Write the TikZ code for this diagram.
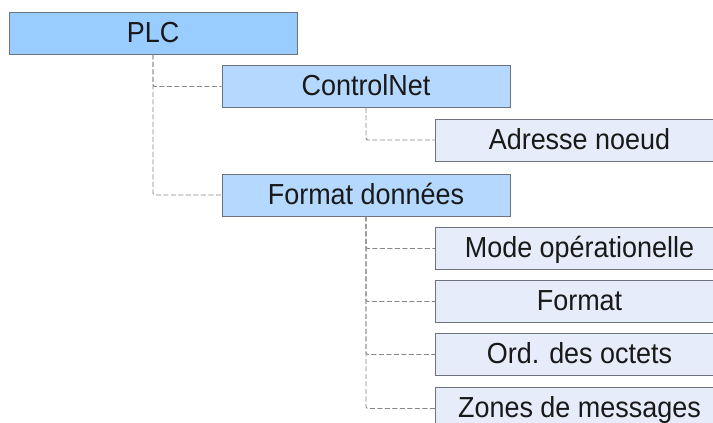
\documentclass[tikz,border=0pt]{standalone}
\usepackage{fontspec}
\setmainfont{Liberation Sans}[FakeStretch=0.93]
\definecolor{lvlA}{RGB}{153,204,255}
\definecolor{lvlB}{RGB}{181,216,255}
\definecolor{lvlC}{RGB}{230,236,249}
\definecolor{boxline}{RGB}{110,114,125}
\definecolor{connline}{RGB}{135,135,135}
\tikzset{
  menubox/.style={draw=boxline, line width=0.9pt, minimum width=288pt, minimum height=42pt,
    inner sep=0pt, text height=18pt, text depth=0pt, text=black!90, font=\fontsize{29}{32}\selectfont},
  boxA/.style={menubox, fill=lvlA},
  boxB/.style={menubox, fill=lvlB},
  boxC/.style={menubox, fill=lvlC},
  conn/.style={draw=connline, line width=0.9pt, dash pattern=on 5pt off 2.5pt, rounded corners=2pt},
}
\begin{document}
\begin{tikzpicture}[x=1pt,y=-1pt]
\useasboundingbox (0,0) rectangle (713,423);
\clip (0,0) rectangle (713,423);
\fill[white] (0,0) rectangle (713,423);
\node[boxA] (plc) at (153,33) {PLC};
\node[boxB] (cn) at (366,86.5) {ControlNet};
\node[boxC] (adr) at (579.5,140) {Adresse noeud};
\node[boxB] (fd) at (366,195) {Format données};
\node[boxC] (mode) at (579.5,248.5) {Mode opérationelle};
\node[boxC] (fmt) at (579.5,301.5) {Format};
\node[boxC] (ord) at (579.5,354.5) {Ord. des octets};
\node[boxC] (zon) at (579.5,408.5) {Zones de messages};
\draw[conn] (plc.south) |- (cn.west);
\draw[conn] (plc.south) |- (fd.west);
\draw[conn] (cn.south) |- (adr.west);
\draw[conn] (fd.south) |- (mode.west);
\draw[conn] (fd.south) |- (fmt.west);
\draw[conn] (fd.south) |- (ord.west);
\draw[conn] (fd.south) |- (zon.west);
\end{tikzpicture}
\end{document}
